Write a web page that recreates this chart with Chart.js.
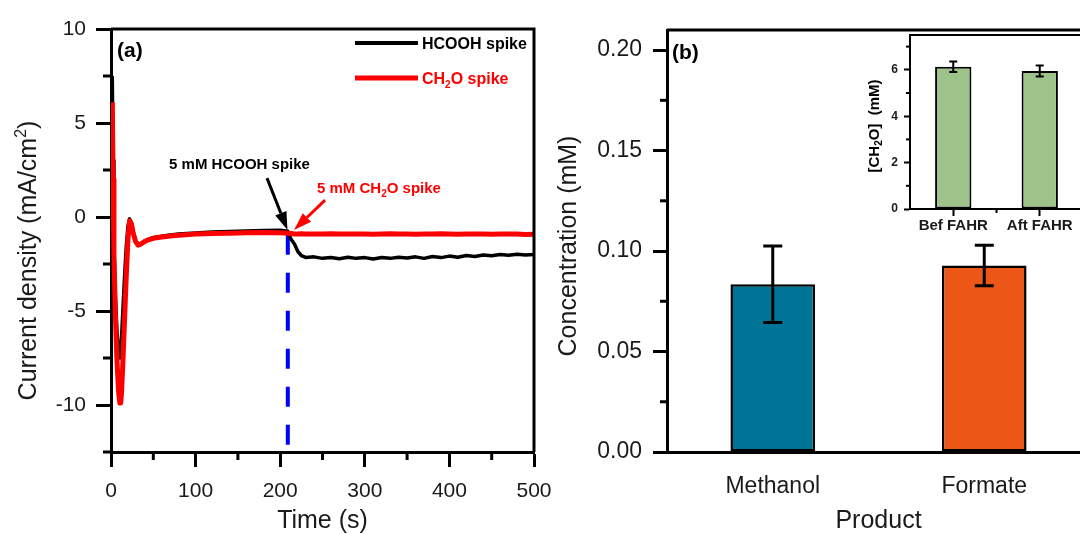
<!DOCTYPE html>
<html>
<head>
<meta charset="utf-8">
<script src="https://cdn.jsdelivr.net/npm/chart.js@4.4.0/dist/chart.umd.min.js"></script>
<style>
  html, body { margin: 0; padding: 0; background: #fff; overflow: hidden; width: 1080px; height: 534px; }
  canvas { position: absolute; }
  #grafA { left: 0; top: 0; }
  #grafB { left: 540px; top: 0; }
  #grafC { left: 840px; top: 20px; }
</style>
</head>
<body>
<canvas id="grafA" width="565" height="534"></canvas>
<canvas id="grafB" width="570" height="534"></canvas>
<canvas id="grafC" width="260" height="225"></canvas>
<script>
const FUENTE = '"Liberation Sans", Arial, sans-serif';
const TEXTO = '#1a1a1a';

// (a) densidad de corriente vs tiempo
const tiempo = [1.5, 2.5, 3.5, 5, 7, 9, 10.5, 11.5, 12.5, 14, 16, 18, 20, 22, 24, 26, 29, 32, 35, 40,
  45, 50, 60, 70, 80, 100, 120, 140, 160, 180, 200, 209, 213, 217, 221, 225, 230, 240,
  250, 260, 270, 280, 290, 300, 310, 320, 330, 340, 350, 360, 370, 380, 390, 400, 410, 420, 430,
  440, 450, 460, 470, 480, 490, 500];
const corrienteHCOOH = [7.5, 3.0, -1.5, -4.0, -6.0, -7.2, -7.5, -7.2, -6.4, -5.0, -3.2, -1.6, -0.5, -0.1, -0.3, -0.75, -1.25, -1.45, -1.42, -1.27,
  -1.17, -1.1, -1.02, -0.96, -0.91, -0.85, -0.8, -0.77, -0.74, -0.72, -0.71, -0.76, -1.2, -1.45, -1.85, -2.05, -2.15, -2.12,
  -2.2, -2.15, -2.22, -2.14, -2.2, -2.16, -2.23, -2.15, -2.2, -2.14, -2.18, -2.12, -2.2, -2.1, -2.16, -2.08, -2.14, -2.05, -2.1,
  -2.02, -2.06, -2.0, -2.04, -1.98, -2.02, -2.0];
const corrienteCH2O = [6.1, 2.0, -2.0, -5.0, -7.6, -9.3, -9.9, -9.9, -9.3, -7.8, -5.5, -3.2, -1.2, -0.2, -0.35, -0.8, -1.3, -1.5, -1.45, -1.3,
  -1.2, -1.13, -1.06, -1.01, -0.97, -0.91, -0.88, -0.86, -0.84, -0.83, -0.84, -0.86, -0.88, -0.9, -0.9, -0.89, -0.9, -0.9,
  -0.91, -0.89, -0.9, -0.91, -0.9, -0.9, -0.92, -0.9, -0.89, -0.91, -0.9, -0.92, -0.9, -0.91, -0.89, -0.9, -0.92,
  -0.91, -0.9, -0.9, -0.92, -0.91, -0.9, -0.91, -0.93, -0.92];
const tiempoSpike = 209;
const lineaSpike = [-0.95, -12.2];
const menoresTiempo = [50, 150, 250, 350, 450];
const menoresCorriente = [-12.5, -7.5, -2.5, 2.5, 7.5];

// (b) productos
const productos = ['Methanol', 'Formate'];
const concentracion = [0.0835, 0.0928];
const errorConc = [0.019, 0.0101];
const coloresProducto = ['#017597', '#ec5717'];
const menoresConc = [0.025, 0.075, 0.125, 0.175];

// recuadro: CH2O antes y después
const etapas = ['Bef FAHR', 'Aft FAHR'];
const ch2o = [6.13, 5.95];
const errorCh2o = [0.23, 0.24];
const menoresCh2o = [1, 3, 5, 7];

// escribe texto con sub/superíndices, devuelve el ancho
function escribir(ctx, partes, x, y, tam, color, peso) {
  ctx.fillStyle = color;
  ctx.textAlign = 'left';
  ctx.textBaseline = 'alphabetic';
  let px = x;
  partes.forEach(([t, tipo]) => {
    const t2 = tipo ? Math.round(tam * 0.65) : tam;
    ctx.font = `${peso} ${t2}px ${FUENTE}`;
    const dy = tipo === 'sub' ? tam * 0.22 : (tipo === 'sup' ? -tam * 0.42 : 0);
    ctx.fillText(t, px, y + dy);
    px += ctx.measureText(t).width;
  });
  return px - x;
}

function medir(ctx, partes, tam, peso) {
  let w = 0;
  partes.forEach(([t, tipo]) => {
    ctx.font = `${peso} ${tipo ? Math.round(tam * 0.65) : tam}px ${FUENTE}`;
    w += ctx.measureText(t).width;
  });
  return w;
}

// título vertical centrado en cy, con la línea base en bx
function tituloVertical(ctx, partes, bx, cy, tam, color, peso) {
  const w = medir(ctx, partes, tam, peso);
  ctx.save();
  ctx.translate(bx, cy);
  ctx.rotate(-Math.PI / 2);
  escribir(ctx, partes, -w / 2, 0, tam, color, peso);
  ctx.restore();
}

function flecha(ctx, x1, y1, x2, y2, color) {
  const ang = Math.atan2(y2 - y1, x2 - x1);
  const largo = 18, medio = 6;
  const bx = x2 - largo * Math.cos(ang), by = y2 - largo * Math.sin(ang);
  ctx.strokeStyle = color;
  ctx.fillStyle = color;
  ctx.lineWidth = 3;
  ctx.beginPath(); ctx.moveTo(x1, y1); ctx.lineTo(bx, by); ctx.stroke();
  ctx.beginPath();
  ctx.moveTo(x2, y2);
  ctx.lineTo(bx + medio * Math.sin(ang), by - medio * Math.cos(ang));
  ctx.lineTo(bx - medio * Math.sin(ang), by + medio * Math.cos(ang));
  ctx.closePath(); ctx.fill();
}

// marcas menores y marco superior/derecho
function marcas(cfg) {
  return {
    id: 'marcas',
    afterDraw(chart) {
      const ctx = chart.ctx;
      const { left, right, top, bottom } = chart.chartArea;
      ctx.save();
      ctx.strokeStyle = '#000';
      ctx.lineWidth = cfg.ancho;
      (cfg.y || []).forEach(v => {
        const py = chart.scales.y.getPixelForValue(v);
        ctx.beginPath(); ctx.moveTo(left - cfg.largo, py); ctx.lineTo(left, py); ctx.stroke();
      });
      (cfg.x || []).forEach(v => {
        const px = chart.scales.x.getPixelForValue(v);
        ctx.beginPath(); ctx.moveTo(px, bottom); ctx.lineTo(px, bottom + cfg.largo); ctx.stroke();
      });
      ctx.lineWidth = cfg.marco;
      ctx.beginPath(); ctx.moveTo(left, top); ctx.lineTo(right, top); ctx.lineTo(right, bottom); ctx.stroke();
      ctx.restore();
    }
  };
}

function barrasError(errores, tapa, grosor) {
  return {
    id: 'errores',
    afterDatasetsDraw(chart) {
      const ctx = chart.ctx, y = chart.scales.y;
      const vals = chart.data.datasets[0].data;
      ctx.save();
      ctx.strokeStyle = '#000';
      ctx.lineWidth = grosor;
      chart.getDatasetMeta(0).data.forEach((bar, i) => {
        const yA = y.getPixelForValue(vals[i] + errores[i]);
        const yB = y.getPixelForValue(vals[i] - errores[i]);
        ctx.beginPath();
        ctx.moveTo(bar.x, yA); ctx.lineTo(bar.x, yB);
        ctx.moveTo(bar.x - tapa / 2, yA); ctx.lineTo(bar.x + tapa / 2, yA);
        ctx.moveTo(bar.x - tapa / 2, yB); ctx.lineTo(bar.x + tapa / 2, yB);
        ctx.stroke();
      });
      ctx.restore();
    }
  };
}

function ejeLineal(opc) {
  return {
    type: 'linear',
    min: opc.min, max: opc.max,
    ticks: {
      stepSize: opc.paso, includeBounds: false, maxRotation: 0, autoSkip: false,
      padding: opc.pad, color: TEXTO,
      font: { family: FUENTE, size: opc.tam, weight: opc.peso || 'normal' },
      callback: opc.formato || (v => v)
    },
    grid: { drawOnChartArea: false, drawTicks: true, tickLength: opc.marca, tickWidth: opc.grosor, tickColor: '#000' },
    border: { display: true, color: '#000', width: opc.grosor },
    title: opc.titulo ? {
      display: true, text: opc.titulo, color: TEXTO,
      font: { family: FUENTE, size: 25, lineHeight: 1 }, padding: opc.tpad
    } : { display: false },
    afterFit: opc.ajuste
  };
}

// ---------- (a) ----------
const notasA = {
  id: 'notasA',
  afterDatasetsDraw(chart) {
    const ctx = chart.ctx;
    const { left, right, top } = chart.chartArea;
    const sx = chart.scales.x, sy = chart.scales.y;
    ctx.save();
    // rótulo del panel
    escribir(ctx, [['(a)', '']], left + 6, top + 28, 21, '#000', 'bold');
    // leyenda
    ctx.lineCap = 'butt';
    ctx.strokeStyle = '#000'; ctx.lineWidth = 4;
    ctx.beginPath(); ctx.moveTo(right - 179, top + 14); ctx.lineTo(right - 116, top + 14); ctx.stroke();
    ctx.strokeStyle = '#ff0000'; ctx.lineWidth = 5;
    ctx.beginPath(); ctx.moveTo(right - 179, top + 49); ctx.lineTo(right - 116, top + 49); ctx.stroke();
    escribir(ctx, [['HCOOH spike', '']], right - 112, top + 20, 16, '#000', 'bold');
    escribir(ctx, [['CH', ''], ['2', 'sub'], ['O spike', '']], right - 112, top + 55, 16, '#ff0000', 'bold');
    // anotaciones de las adiciones
    escribir(ctx, [['5 mM HCOOH spike', '']], sx.getPixelForValue(68.6), sy.getPixelForValue(2.86) + 5.4, 15, '#000', 'bold');
    escribir(ctx, [['5 mM CH', ''], ['2', 'sub'], ['O spike', '']], sx.getPixelForValue(243.5), sy.getPixelForValue(1.54) + 5.4, 15, '#ff0000', 'bold');
    flecha(ctx, sx.getPixelForValue(184.4), sy.getPixelForValue(2.07), sx.getPixelForValue(tiempoSpike - 0.4), sy.getPixelForValue(-0.69), '#000');
    flecha(ctx, sx.getPixelForValue(253), sy.getPixelForValue(0.9), sx.getPixelForValue(216.3), sy.getPixelForValue(-0.69), '#ff0000');
    // título del eje y
    tituloVertical(ctx, [['Current density (mA/cm', ''], ['2', 'sup'], [')', '']], left - 75, (chart.chartArea.top + chart.chartArea.bottom) / 2 + 20, 25, TEXTO, 'normal');
    ctx.restore();
  }
};

new Chart(document.getElementById('grafA'), {
  type: 'line',
  data: {
    datasets: [
      {
        label: 'CH2O spike', data: tiempo.map((t, i) => ({ x: t, y: corrienteCH2O[i] })),
        borderColor: '#ff0000', borderWidth: 5, pointRadius: 0, borderJoinStyle: 'round', order: 1
      },
      {
        label: 'HCOOH spike', data: tiempo.map((t, i) => ({ x: t, y: corrienteHCOOH[i] })),
        borderColor: '#000', borderWidth: 3.5, pointRadius: 0, borderJoinStyle: 'round', order: 2
      },
      {
        label: 'spike', data: lineaSpike.map(v => ({ x: tiempoSpike, y: v })),
        borderColor: '#0000ff', borderWidth: 4, borderDash: [20, 18], pointRadius: 0, order: 3
      }
    ]
  },
  options: {
    responsive: false, animation: false,
    layout: { padding: { left: 0, top: 29, right: 31, bottom: 0 } },
    plugins: { legend: { display: false }, tooltip: { enabled: false } },
    scales: {
      x: ejeLineal({ min: 0, max: 500, paso: 100, pad: 12, tam: 21, marca: 15, grosor: 3,
        titulo: 'Time (s)', tpad: { top: 0, bottom: 0 },
        ajuste: s => { s.height = 82; s.paddingLeft = 0; s.paddingRight = 0; } }),
      y: ejeLineal({ min: -12.5, max: 10, paso: 5, pad: 10, tam: 21, marca: 15, grosor: 3,
        ajuste: s => { s.width = 111; s.paddingTop = 0; s.paddingBottom = 0; } })
    }
  },
  plugins: [marcas({ x: menoresTiempo, y: menoresCorriente, largo: 8, ancho: 3, marco: 3 }), notasA]
});

// ---------- (b) ----------
const notasB = {
  id: 'notasB',
  afterDraw(chart) {
    const { left, top, bottom } = chart.chartArea;
    const ctx = chart.ctx;
    ctx.save();
    escribir(ctx, [['(b)', '']], left + 5, top + 29, 21, '#000', 'bold');
    tituloVertical(ctx, [['Concentration (mM)', '']], left - 91, (top + bottom) / 2 + 5, 25, TEXTO, 'normal');
    ctx.restore();
  }
};

new Chart(document.getElementById('grafB'), {
  type: 'bar',
  data: {
    labels: productos,
    datasets: [{
      data: concentracion, backgroundColor: coloresProducto, borderColor: '#000', borderWidth: 2.5,
      borderSkipped: false, barPercentage: 0.4, categoryPercentage: 1
    }]
  },
  options: {
    responsive: false, animation: false,
    layout: { padding: { left: 0, top: 30, right: 20, bottom: 0 } },
    plugins: { legend: { display: false }, tooltip: { enabled: false } },
    scales: {
      x: {
        grid: { display: false, drawTicks: false },
        border: { display: true, color: '#000', width: 3 },
        ticks: { font: { family: FUENTE, size: 23 }, color: TEXTO, padding: 21, maxRotation: 0 },
        title: { display: true, text: 'Product', color: TEXTO, font: { family: FUENTE, size: 25, lineHeight: 1 }, padding: { top: 0, bottom: 0 } },
        afterFit: s => { s.height = 82; s.paddingLeft = 0; s.paddingRight = 0; }
      },
      y: ejeLineal({ min: 0, max: 0.21, paso: 0.05, pad: 11, tam: 23, marca: 14, grosor: 3,
        formato: v => v.toFixed(2),
        ajuste: s => { s.width = 127; s.paddingTop = 0; s.paddingBottom = 0; } })
    }
  },
  plugins: [marcas({ y: menoresConc, largo: 7, ancho: 3, marco: 3 }), barrasError(errorConc, 19, 3), notasB]
});

// ---------- recuadro ----------
const tituloRecuadro = {
  id: 'tituloRecuadro',
  afterDraw(chart) {
    const { left, top, bottom } = chart.chartArea;
    tituloVertical(chart.ctx, [['[CH', ''], ['2', 'sub'], ['O]  (mM)', '']], left - 31, (top + bottom) / 2 + 4, 15, '#000', 'bold');
  }
};

new Chart(document.getElementById('grafC'), {
  type: 'bar',
  data: {
    labels: etapas,
    datasets: [{
      data: ch2o, backgroundColor: '#9dc38b', borderColor: '#000', borderWidth: 2,
      borderSkipped: false, barPercentage: 0.42, categoryPercentage: 1
    }]
  },
  options: {
    responsive: false, animation: false,
    layout: { padding: { left: 0, top: 15, right: 17, bottom: 0 } },
    plugins: { legend: { display: false }, tooltip: { enabled: false } },
    scales: {
      x: {
        grid: { offset: false, drawOnChartArea: false, drawTicks: true, tickLength: 7, tickWidth: 2, tickColor: '#000' },
        border: { display: true, color: '#000', width: 2 },
        ticks: { font: { family: FUENTE, size: 15, weight: 'bold' }, color: TEXTO, padding: 1, maxRotation: 0, autoSkip: false },
        afterFit: s => { s.height = 36; s.paddingLeft = 0; s.paddingRight = 0; }
      },
      y: ejeLineal({ min: 0, max: 7.5, paso: 2, pad: 6, tam: 12, peso: 'bold', marca: 6, grosor: 2,
        ajuste: s => { s.width = 70; s.paddingTop = 0; s.paddingBottom = 0; } })
    }
  },
  plugins: [marcas({ x: [0.5], y: menoresCh2o, largo: 4, ancho: 2, marco: 2 }), barrasError(errorCh2o, 8, 2), tituloRecuadro]
});
</script>
</body>
</html>
